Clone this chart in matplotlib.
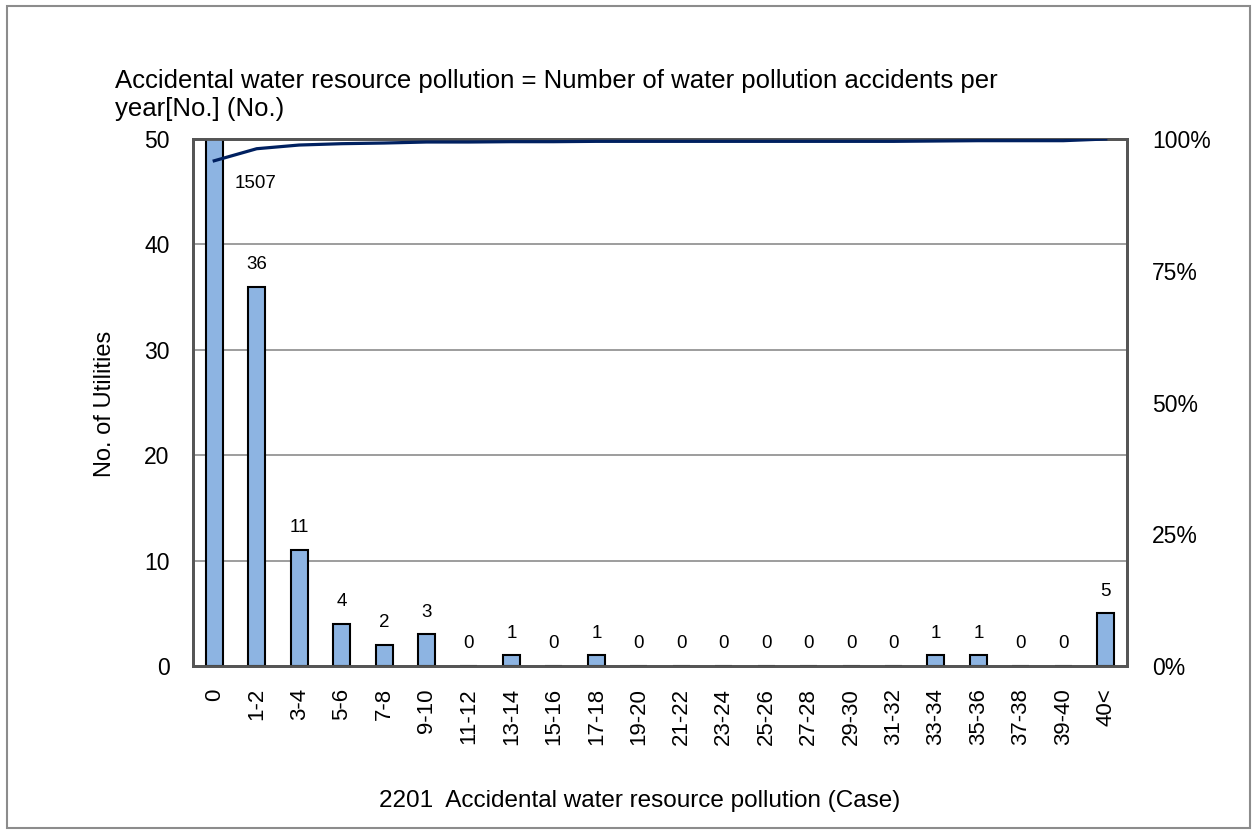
import numpy as np
import matplotlib
matplotlib.use('Agg')
import matplotlib.pyplot as plt
from matplotlib.patches import Rectangle

plt.rcParams['font.family'] = ['Liberation Sans', 'DejaVu Sans']

# data
categories = ['0', '1-2', '3-4', '5-6', '7-8', '9-10', '11-12', '13-14', '15-16', '17-18',
              '19-20', '21-22', '23-24', '25-26', '27-28', '29-30', '31-32', '33-34',
              '35-36', '37-38', '39-40', '40<']
counts = [1507, 36, 11, 4, 2, 3, 0, 1, 0, 1, 0, 0, 0, 0, 0, 0, 0, 1, 1, 0, 0, 5]
title = 'Accidental water resource pollution = Number of water pollution accidents per\nyear[No.] (No.)'
xlabel = '2201  Accidental water resource pollution (Case)'
ylabel = 'No. of Utilities'

# cumulative share (right axis)
cum = np.cumsum(counts) / np.sum(counts) * 100
x = np.arange(len(categories))

fig = plt.figure(figsize=(12.57, 8.34), dpi=100)
fig.patches.append(Rectangle((7/1257, 6/834), 1243/1257, 822/834, transform=fig.transFigure,
                             fill=False, edgecolor='#8c8c8c', linewidth=1.5))

ax = fig.add_axes([193/1257, 168/834, 934/1257, 527/834])
ax.bar(x, counts, width=0.4, color='#8db4e2', edgecolor='black', linewidth=1.5, zorder=3)
ax.set_ylim(0, 50)
ax.set_xlim(-0.5, len(categories) - 0.5)
ax.set_yticks(range(0, 51, 10))
ax.yaxis.grid(True, color='#8c8c8c', linewidth=1.2)
ax.set_axisbelow(True)
ax.tick_params(length=0, labelsize=16.5, pad=17)
ax.set_xticks(x)
ax.set_xticklabels(categories, rotation=90, fontsize=16)
ax.tick_params(axis='x', pad=16)
for s in ax.spines.values():
    s.set_color('#555555')
    s.set_linewidth(2)
ax.set_ylabel(ylabel, fontsize=17)
ax.yaxis.set_label_coords(-0.082, 0.497)
ax.set_xlabel(xlabel, fontsize=17.5)
ax.xaxis.set_label_coords(0.478, -0.235)

for i, c in enumerate(counts):
    if c > 50:
        # clipped bar: label sits beside it
        ax.text(i + 0.97, 45.8, str(c), ha='center', va='center', fontsize=13.5)
    else:
        ax.text(i, c + 1.3, str(c), ha='center', va='bottom', fontsize=13.5)

ax2 = ax.twinx()
ax2.plot(x, cum, color='#002060', linewidth=2.3, zorder=5)
ax2.set_ylim(0, 100)
ax2.set_yticks([0, 25, 50, 75, 100])
ax2.set_yticklabels(['0%', '25%', '50%', '75%', '100%'])
ax2.tick_params(length=0, labelsize=16.5, pad=18)
for s in ax2.spines.values():
    s.set_color('#555555')
    s.set_linewidth(2)

fig.text(115/1257, 1 - 95/834, title, fontsize=18.5, ha='left', va='center', linespacing=1.25)

fig.savefig('out.png', dpi=100)
